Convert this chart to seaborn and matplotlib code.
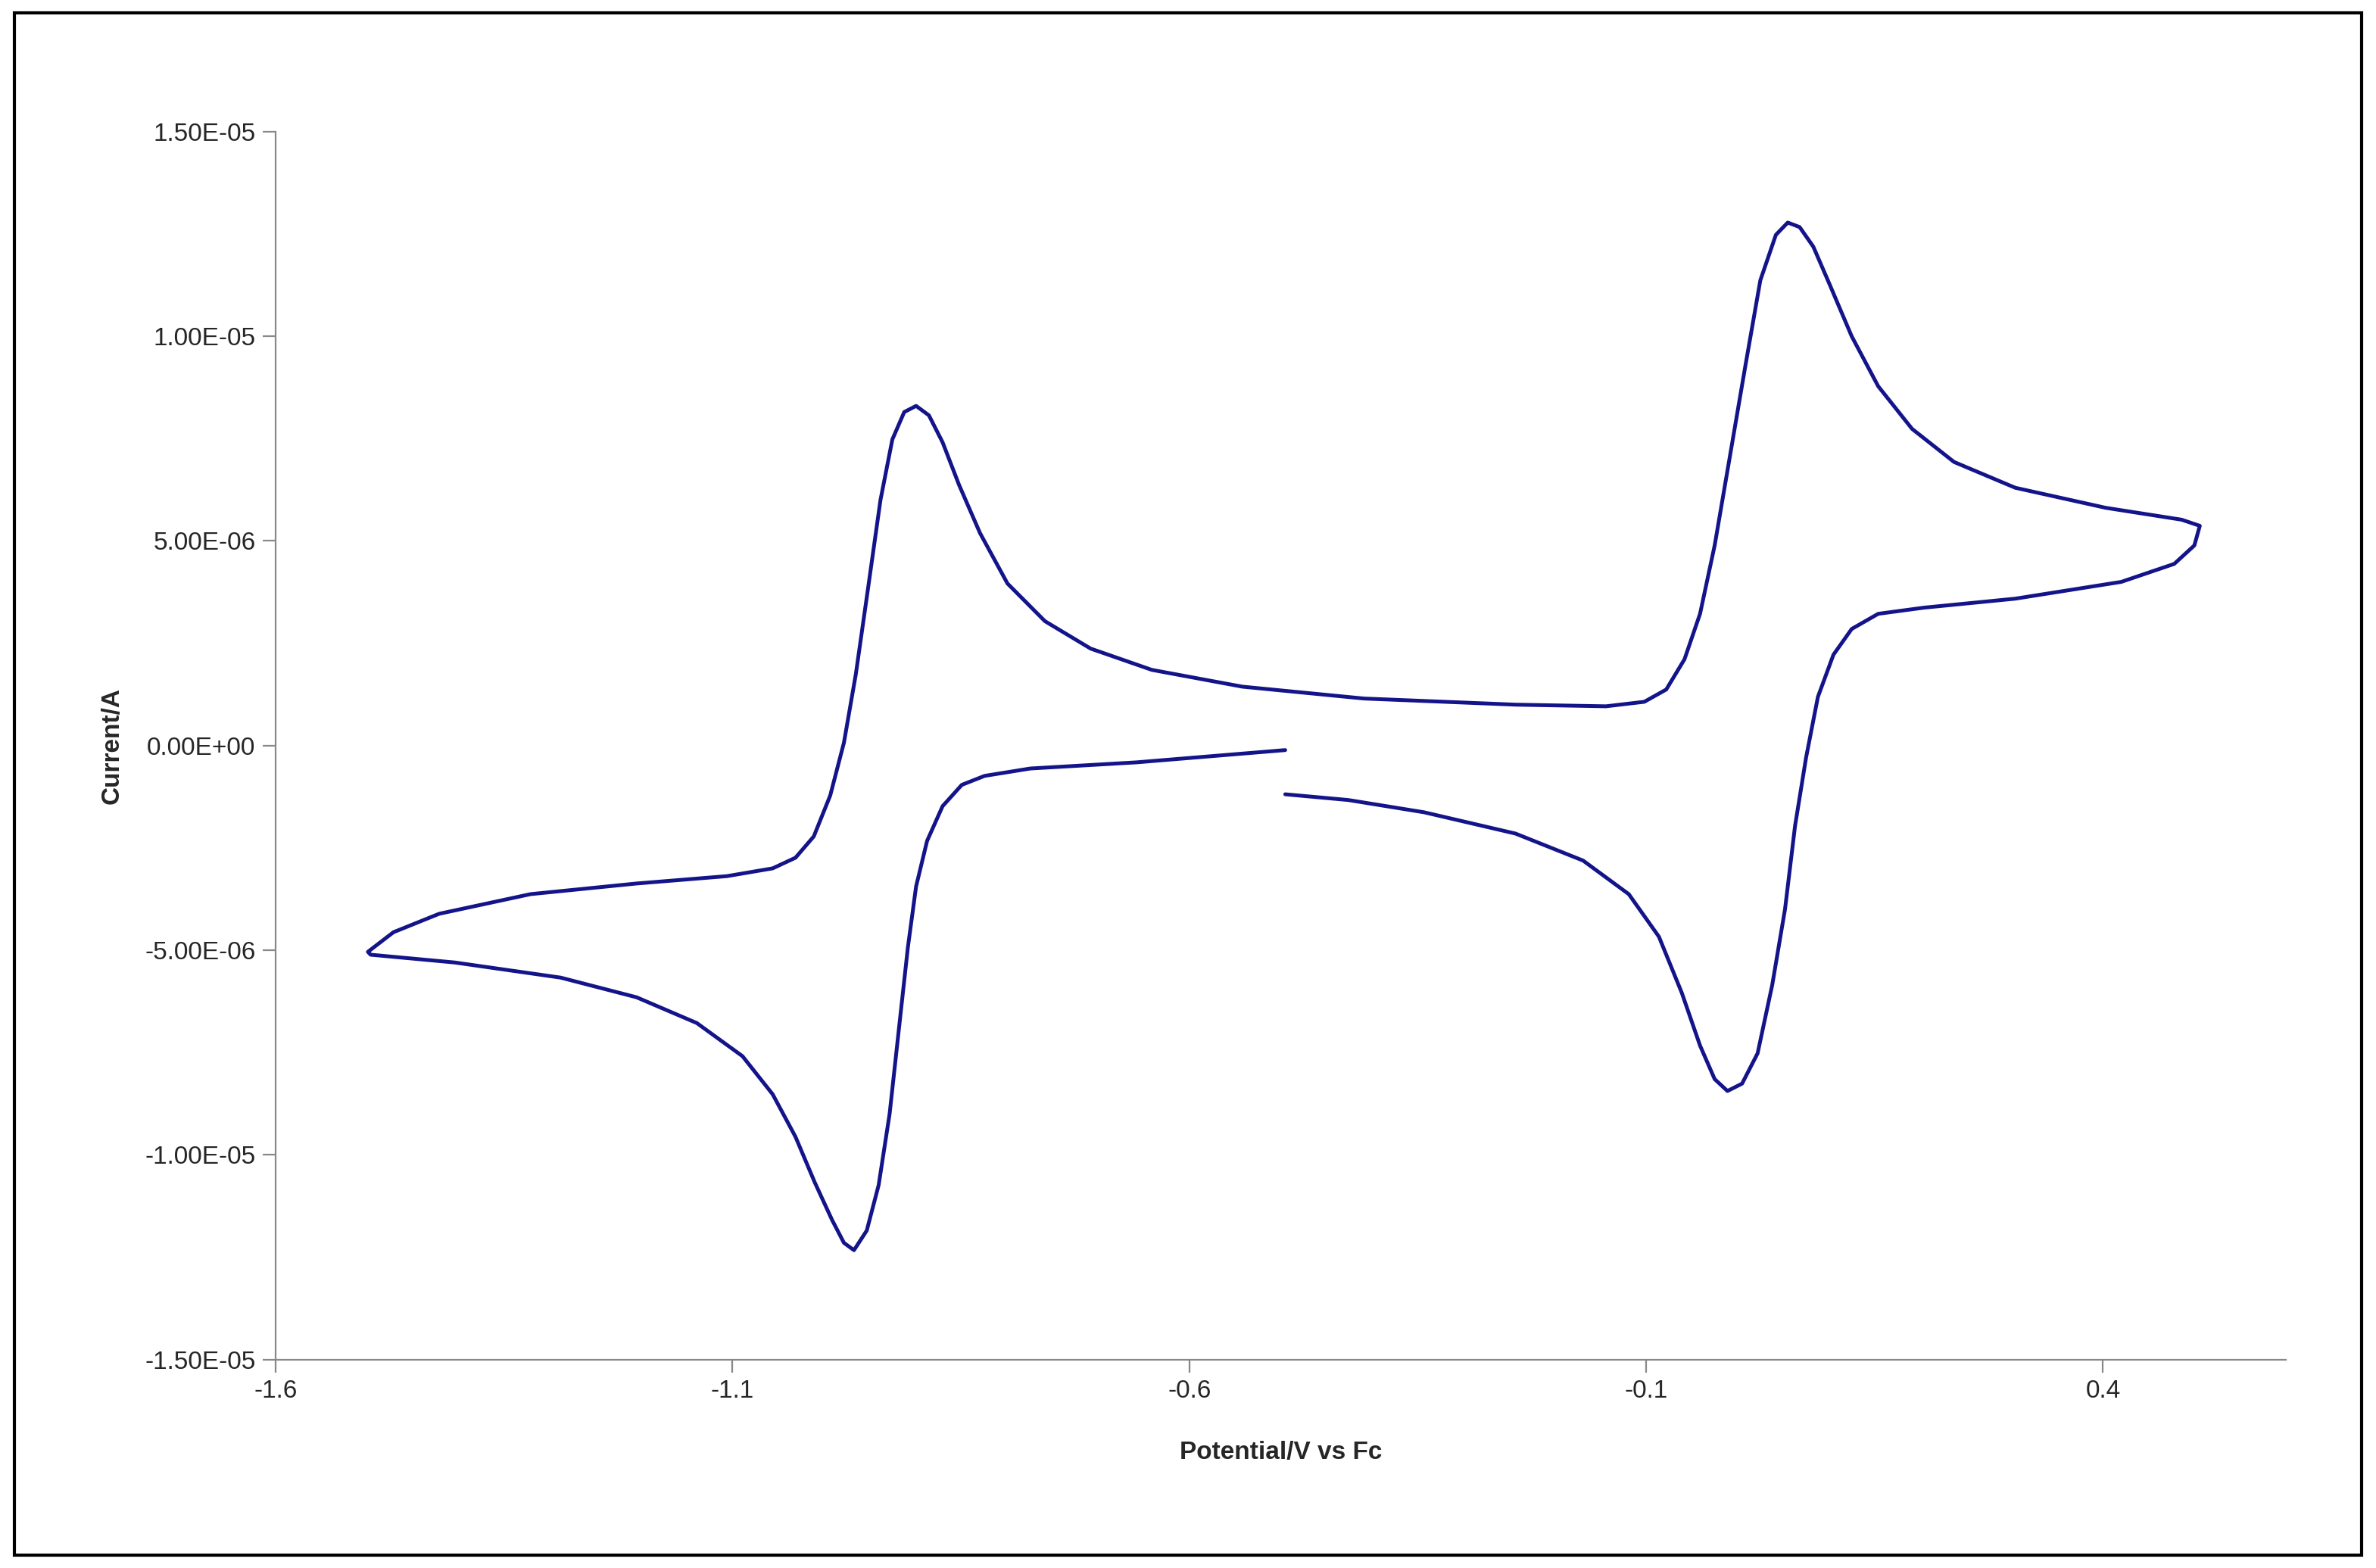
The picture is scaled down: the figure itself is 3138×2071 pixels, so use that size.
import matplotlib
matplotlib.use("Agg")
import matplotlib.pyplot as plt
import seaborn as sns
import pandas as pd
from matplotlib.patches import Rectangle

potential = [-0.495,-0.658,-0.774,-0.824,-0.849,-0.870,-0.887,-0.899,-0.908,-0.918,-0.928,-0.940,-0.953,-0.967,
             -0.978,-0.991,-1.010,-1.031,-1.056,-1.089,-1.139,-1.205,-1.288,-1.404,-1.496,
             -1.499,-1.471,-1.421,-1.321,-1.205,-1.106,-1.056,-1.031,-1.011,-0.993,-0.978,-0.965,-0.952,-0.938,
             -0.925,-0.912,-0.899,-0.885,-0.870,-0.852,-0.829,-0.799,-0.758,-0.708,-0.641,-0.542,-0.409,-0.243,
             -0.144,-0.102,-0.078,-0.058,-0.041,-0.025,-0.008,0.009,0.025,0.042,0.055,0.068,0.083,0.101,0.125,
             0.154,0.191,0.237,0.304,0.403,0.486,0.506,
             0.500,0.478,0.420,0.304,0.204,0.154,0.125,0.105,0.088,0.075,0.063,0.052,0.038,0.022,0.005,-0.011,
             -0.025,-0.041,-0.061,-0.086,-0.119,-0.169,-0.243,-0.343,-0.426,-0.495]
current_uA = [-0.11,-0.41,-0.56,-0.74,-0.96,-1.48,-2.33,-3.44,-4.93,-6.96,-9.00,-10.74,-11.85,-12.33,
              -12.15,-11.59,-10.67,-9.56,-8.52,-7.59,-6.78,-6.15,-5.67,-5.30,-5.11,
              -5.04,-4.56,-4.11,-3.63,-3.37,-3.19,-3.00,-2.74,-2.22,-1.22,0.07,1.74,3.78,6.00,
              7.48,8.15,8.30,8.07,7.41,6.37,5.19,3.96,3.04,2.37,1.85,1.44,1.15,1.00,
              0.96,1.07,1.37,2.11,3.22,4.89,7.11,9.33,11.37,12.48,12.78,12.67,12.19,11.26,10.00,
              8.78,7.74,6.93,6.30,5.81,5.52,5.37,
              4.89,4.44,4.00,3.59,3.37,3.22,2.85,2.22,1.19,-0.30,-1.96,-4.00,-5.85,-7.52,-8.26,-8.44,
              -8.15,-7.33,-6.04,-4.67,-3.63,-2.81,-2.15,-1.63,-1.33,-1.19]
xticks = [-1.6, -1.1, -0.6, -0.1, 0.4]
yticks = [-1.5e-5, -1.0e-5, -5e-6, 0, 5e-6, 1.0e-5, 1.5e-5]
ytick_labels = ["-1.50E-05", "-1.00E-05", "-5.00E-06", "0.00E+00", "5.00E-06", "1.00E-05", "1.50E-05"]

df = pd.DataFrame({"V": potential, "I": [c * 1e-6 for c in current_uA]})

sns.set_style("white")
plt.rcParams['font.family'] = ['Liberation Sans', 'DejaVu Sans']
fig = plt.figure(figsize=(15.69, 10.355), dpi=200)
fig.patches.append(Rectangle((0.006, 0.008), 0.988, 0.984, transform=fig.transFigure,
                             fill=False, edgecolor='black', linewidth=1.5))
ax = fig.add_axes([0.116, 0.133, 0.846, 0.783])
sns.lineplot(data=df, x="V", y="I", sort=False, estimator=None, color="#14148a", lw=1.8, ax=ax)
ax.set_xlim(-1.6, 0.6)
ax.set_ylim(-1.5e-5, 1.5e-5)
ax.set_xticks(xticks)
ax.set_xticklabels([str(t) for t in xticks])
ax.set_yticks(yticks)
ax.set_yticklabels(ytick_labels)
for s in ["top", "right"]:
    ax.spines[s].set_visible(False)
for s in ["left", "bottom"]:
    ax.spines[s].set_color("#888888")
ax.tick_params(direction="out", length=6, color="#888888", labelsize=12, bottom=True, left=True)
ax.set_xlabel("Potential/V vs Fc", fontsize=12, fontweight="bold", labelpad=18)
ax.set_ylabel("Current/A", fontsize=12, fontweight="bold", labelpad=10)
fig.savefig("out.png", dpi=200)
